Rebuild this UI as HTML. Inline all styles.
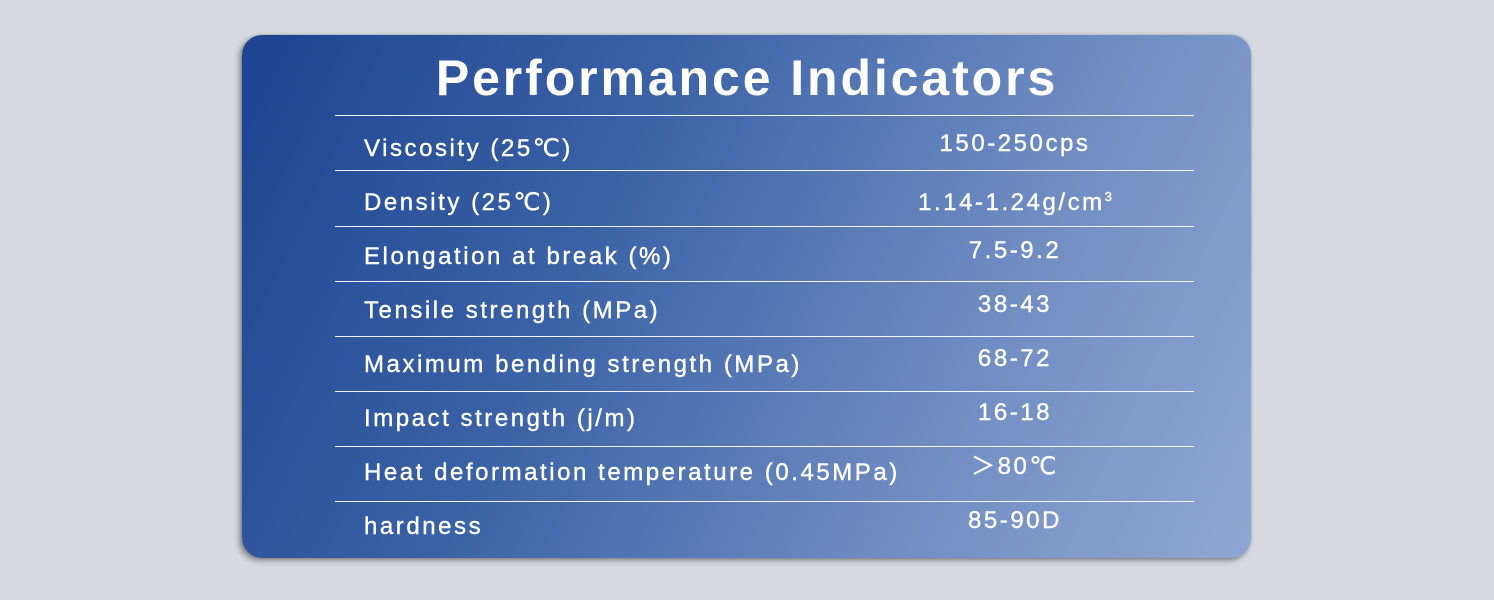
<!DOCTYPE html>
<html><head><meta charset="utf-8"><style>
html,body{margin:0;padding:0}
body{width:1494px;height:600px;background:#d6d9e0;position:relative;overflow:hidden;font-family:"Liberation Sans","DejaVu Sans","Noto Sans CJK SC",sans-serif;color:#fff}
.panel{position:absolute;left:242px;top:35px;width:1009px;height:523px;border-radius:20px;background:linear-gradient(115deg,#1d4391 0%,#3b62a6 35%,#6f8cc2 70%,#91a7d2 100%);box-shadow:-3px 3px 6px rgba(0,0,0,0.35),0 0 3px rgba(0,0,0,0.2)}
.title{position:absolute;left:0;width:1494px;top:48px;text-align:center;font-size:50px;font-weight:bold;letter-spacing:2.9px;line-height:60px}
.line{position:absolute;left:335px;width:859px;height:1px;background:#f2f4fa}
.lab,.val{font-size:24px;letter-spacing:2.55px;line-height:30px;-webkit-text-stroke:0.4px #fff}
.lab{position:absolute;left:364px}
.val{position:absolute;left:880px;width:270px;text-align:center}
</style></head><body>
<div class="panel"></div>
<div class="title">Performance Indicators</div>
<div class="line" style="top:115px"></div>
<div class="line" style="top:170px"></div>
<div class="line" style="top:226px"></div>
<div class="line" style="top:281px"></div>
<div class="line" style="top:336px"></div>
<div class="line" style="top:391px"></div>
<div class="line" style="top:446px"></div>
<div class="line" style="top:501px"></div>
<div class="lab" style="top:134px">Viscosity (25℃)</div>
<div class="lab" style="top:188px">Density (25℃)</div>
<div class="lab" style="top:242px">Elongation at break (%)</div>
<div class="lab" style="top:296px">Tensile strength (MPa)</div>
<div class="lab" style="top:350px">Maximum bending strength (MPa)</div>
<div class="lab" style="top:404px">Impact strength (j/m)</div>
<div class="lab" style="top:458px">Heat deformation temperature (0.45MPa)</div>
<div class="lab" style="top:512px">hardness</div>
<div class="val" style="top:129px">150-250cps</div>
<div class="val" style="top:182px">1.14-1.24g/cm<sup style="font-size:13px;vertical-align:9px;letter-spacing:0">3</sup></div>
<div class="val" style="top:236px">7.5-9.2</div>
<div class="val" style="top:290px">38-43</div>
<div class="val" style="top:344px">68-72</div>
<div class="val" style="top:398px">16-18</div>
<div class="val" style="top:452px">＞80℃</div>
<div class="val" style="top:506px">85-90D</div>
</body></html>
